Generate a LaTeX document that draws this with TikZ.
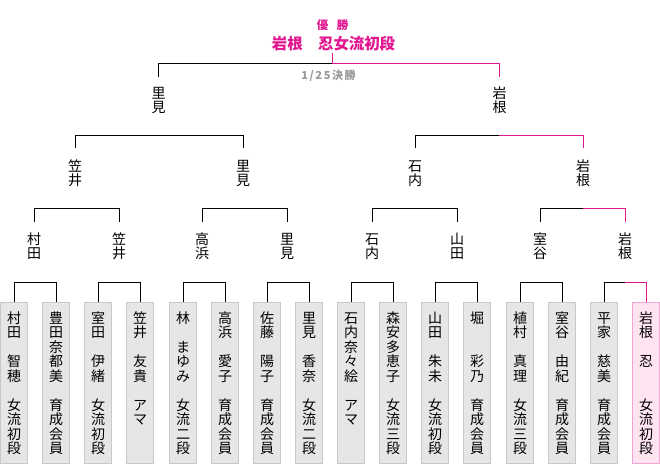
\documentclass[tikz,border=0pt]{standalone}
\usepackage{fontspec}
\setmainfont{Noto Sans CJK JP}
\usetikzlibrary{calc}
\definecolor{mag}{HTML}{E2168F}
\definecolor{boxfill}{HTML}{E6E6E6}
\definecolor{boxline}{HTML}{C8C8C8}
\definecolor{pinkfill}{HTML}{FFE3F1}
\definecolor{pinkline}{HTML}{F0A6D2}
\definecolor{labgray}{HTML}{999999}
\makeatletter
\newcommand{\vcol}[2][14.5pt]{\vtop{\baselineskip=#1\lineskiplimit=-100pt\lineskip=0pt
  \@tfor\vc@t:=#2\do{\hbox to 0pt{\hss\vc@t\hss}}}}
\makeatother
\begin{document}
\begin{tikzpicture}[x=1pt,y=-1pt,
  bk/.style={draw=black, line width=1pt},
  win/.style={draw=mag, line width=1pt},
  ent/.style={rectangle, draw=boxline, fill=boxfill, line width=0.8pt, minimum width=27.5pt, minimum height=161pt, anchor=north, inner sep=0pt},
  entw/.style={ent, draw=pinkline, fill=pinkfill},
  col/.style={anchor=base, inner sep=0pt, font=\fontsize{14}{14.5}\selectfont},
  nm/.style={anchor=base, inner sep=0pt, font=\fontsize{14}{14}\selectfont},
]
\useasboundingbox (0,0) rectangle (660,464);
\fill[white] (0,0) rectangle (660,464);

% title
\node[text=mag, inner sep=0pt, font=\bfseries\fontsize{11.5}{12}\selectfont] (yusho) at (332.5,25) {優\hspace{8.5pt}勝};
\node[text=mag, inner sep=0pt, font=\bfseries\fontsize{15.4}{16}\selectfont] (champ) at (333.5,44) {岩根　忍女流初段};
\node[text=labgray, inner sep=0pt, font=\bfseries\fontsize{11}{11}\selectfont] (rnd) at (328.5,76) {1\hspace{1.6pt}/\hspace{1.6pt}2\hspace{1.6pt}5\hspace{1.6pt}決\hspace{1.6pt}勝};

% entry boxes
\node[ent] (b1) at (14,302) {};
\node[ent] (b2) at (56,302) {};
\node[ent] (b3) at (98,302) {};
\node[ent] (b4) at (140,302) {};
\node[ent] (b5) at (183,302) {};
\node[ent] (b6) at (225,302) {};
\node[ent] (b7) at (267,302) {};
\node[ent] (b8) at (309,302) {};
\node[ent] (b9) at (351,302) {};
\node[ent] (b10) at (393,302) {};
\node[ent] (b11) at (435,302) {};
\node[ent] (b12) at (477,302) {};
\node[ent] (b13) at (520,302) {};
\node[ent] (b14) at (562,302) {};
\node[ent] (b15) at (604,302) {};
\node[entw] (b16) at (646,302) {};

% entry texts
\node[col] (t1) at ([yshift=-21.3pt]b1.north) {\vcol{村田　智穂　女流初段}};
\node[col] (t2) at ([yshift=-21.3pt]b2.north) {\vcol{豊田奈都美　育成会員}};
\node[col] (t3) at ([yshift=-21.3pt]b3.north) {\vcol{室田　伊緒　女流初段}};
\node[col] (t4) at ([yshift=-21.3pt]b4.north) {\vcol{笠井　友貴　アマ}};
\node[col] (t5) at ([yshift=-21.3pt]b5.north) {\vcol{林　まゆみ　女流二段}};
\node[col] (t6) at ([yshift=-21.3pt]b6.north) {\vcol{高浜　愛子　育成会員}};
\node[col] (t7) at ([yshift=-21.3pt]b7.north) {\vcol{佐藤　陽子　育成会員}};
\node[col] (t8) at ([yshift=-21.3pt]b8.north) {\vcol{里見　香奈　女流二段}};
\node[col] (t9) at ([yshift=-21.3pt]b9.north) {\vcol{石内奈々絵　アマ}};
\node[col] (t10) at ([yshift=-21.3pt]b10.north) {\vcol{森安多恵子　女流三段}};
\node[col] (t11) at ([yshift=-21.3pt]b11.north) {\vcol{山田　朱未　女流初段}};
\node[col] (t12) at ([yshift=-21.3pt]b12.north) {\vcol{堀　　彩乃　育成会員}};
\node[col] (t13) at ([yshift=-21.3pt]b13.north) {\vcol{植村　真理　女流三段}};
\node[col] (t14) at ([yshift=-21.3pt]b14.north) {\vcol{室谷　由紀　育成会員}};
\node[col] (t15) at ([yshift=-21.3pt]b15.north) {\vcol{平家　慈美　育成会員}};
\node[col] (t16) at ([yshift=-21.3pt]b16.north) {\vcol{岩根　忍　　女流初段}};

% round 3 winners
\node[nm] (n31) at (34,244.3) {\vcol[14pt]{村田}};
\node[nm] (n32) at (119,244.3) {\vcol[14pt]{笠井}};
\node[nm] (n33) at (202,244.3) {\vcol[14pt]{高浜}};
\node[nm] (n34) at (287,244.3) {\vcol[14pt]{里見}};
\node[nm] (n35) at (372,244.3) {\vcol[14pt]{石内}};
\node[nm] (n36) at (457,244.3) {\vcol[14pt]{山田}};
\node[nm] (n37) at (540,244.3) {\vcol[14pt]{室谷}};
\node[nm] (n38) at (625,244.3) {\vcol[14pt]{岩根}};

% round 2 winners
\node[nm] (n21) at (75,171.3) {\vcol[14pt]{笠井}};
\node[nm] (n22) at (243,171.3) {\vcol[14pt]{里見}};
\node[nm] (n23) at (415,171.3) {\vcol[14pt]{石内}};
\node[nm] (n24) at (583,171.3) {\vcol[14pt]{岩根}};

% round 1 winners
\node[nm] (n11) at (158.5,98.3) {\vcol[14pt]{里見}};
\node[nm] (n12) at (499.5,98.3) {\vcol[14pt]{岩根}};

% brackets: entries
\draw[bk] (b1.north) -- ++(0,-20) -| (b2.north);
\draw[bk] (b3.north) -- ++(0,-20) -| (b4.north);
\draw[bk] (b5.north) -- ++(0,-20) -| (b6.north);
\draw[bk] (b7.north) -- ++(0,-20) -| (b8.north);
\draw[bk] (b9.north) -- ++(0,-20) -| (b10.north);
\draw[bk] (b11.north) -- ++(0,-20) -| (b12.north);
\draw[bk] (b13.north) -- ++(0,-20) -| (b14.north);
\coordinate (m8) at ($(b15.north)!0.5!(b16.north)+(0,-20)$);
\draw[bk] (b15.north) |- (m8);
\draw[win] (m8) -| (b16.north);

% brackets: round 3
\draw[bk] ([yshift=22.3pt]n31.base) -- ++(0,-14) -| ([yshift=22.3pt]n32.base);
\draw[bk] ([yshift=22.3pt]n33.base) -- ++(0,-14) -| ([yshift=22.3pt]n34.base);
\draw[bk] ([yshift=22.3pt]n35.base) -- ++(0,-14) -| ([yshift=22.3pt]n36.base);
\coordinate (m4) at ($(n37.base)!0.5!(n38.base)+(0,-36.3)$);
\draw[bk] ([yshift=22.3pt]n37.base) |- (m4);
\draw[win] (m4) -| ([yshift=22.3pt]n38.base);

% brackets: round 2
\draw[bk] ([yshift=23.3pt]n21.base) -- ++(0,-13) -| ([yshift=23.3pt]n22.base);
\coordinate (m2) at ($(n23.base)!0.5!(n24.base)+(0,-36.3)$);
\draw[bk] ([yshift=23.3pt]n23.base) |- (m2);
\draw[win] (m2) -| ([yshift=23.3pt]n24.base);

% final
\coordinate (tj) at (332,63);
\draw[bk] ([yshift=21.3pt]n11.base) |- (tj);
\draw[win] (tj) -| ([yshift=21.3pt]n12.base);
\draw[win] (tj) -- ++(0,-10);
\end{tikzpicture}
\end{document}
